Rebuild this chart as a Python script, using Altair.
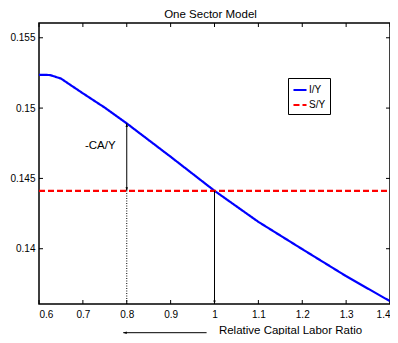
import altair as alt
import pandas as pd

# --- data ---
iy_x = [0.6, 0.625, 0.65, 0.7, 0.75, 0.8, 0.9, 1.0, 1.1, 1.2, 1.3, 1.4]
iy_y = [0.15237, 0.15235, 0.1521, 0.15105, 0.15003, 0.14891, 0.14654, 0.14412, 0.14191, 0.13997, 0.13805, 0.13627]
sy_x = [0.6, 1.4]
sy_level = 0.14412
ca_x = 0.8
ca_top = 0.14891
eq_x = 1.0
x_ticks = [0.6, 0.7, 0.8, 0.9, 1.0, 1.1, 1.2, 1.3, 1.4]
y_ticks = [0.14, 0.145, 0.15, 0.155]
x_dom = [0.6, 1.4]
y_dom = [0.13607, 0.15605]
below_arrow_x = [0.792, 0.982]
below_arrow_y = 0.13403
ca_label = "-CA/Y"
ca_label_pos = (0.7397, 0.1473)
title_text = "One Sector Model"

W, H = 351, 281

lines = pd.DataFrame(
    {"x": iy_x + sy_x,
     "y": iy_y + [sy_level] * len(sy_x),
     "s": ["I/Y"] * len(iy_x) + ["S/Y"] * len(sy_x)}
)

xs = alt.Scale(domain=x_dom, nice=False, zero=False)
ys = alt.Scale(domain=y_dom, nice=False, zero=False)

xax = alt.Axis(values=x_ticks, format="~g", ticks=False, domain=False, grid=False,
               labelPadding=5, labelFontSize=10, labelColor="black",
               title="Relative Capital Labor Ratio", titleFontSize=11.5, titleFontWeight="normal",
               titleColor="black", titleX=251, titleY=29, titleAlign="center",
               titleBaseline="alphabetic")
yax = alt.Axis(values=y_ticks, format="~g", ticks=False, domain=False, grid=False,
               labelPadding=4, labelFontSize=10, labelColor="black", title=None)

line_layer = alt.Chart(lines).mark_line(strokeWidth=2.2).encode(
    x=alt.X("x:Q", scale=xs, axis=xax),
    y=alt.Y("y:Q", scale=ys, axis=yax),
    color=alt.Color("s:N", scale=alt.Scale(domain=["I/Y", "S/Y"], range=["#0000ff", "#ff0000"]),
                    legend=alt.Legend(title=None, orient="none", legendX=249, legendY=55,
                                      fillColor="white", strokeColor="black", padding=4,
                                      symbolType="stroke", symbolSize=170, symbolStrokeWidth=2,
                                      labelFontSize=10, labelColor="black", rowPadding=2,
                                      labelOffset=1)),
    strokeDash=alt.StrokeDash("s:N", scale=alt.Scale(domain=["I/Y", "S/Y"], range=[[1, 0], [6, 3]]),
                              legend=None),
)

seg = pd.DataFrame({"x": [ca_x], "y": [sy_level], "y2": [ca_top]})
ca_rule = alt.Chart(seg).mark_rule(color="black", strokeWidth=1).encode(
    x=alt.X("x:Q", scale=xs), y=alt.Y("y:Q", scale=ys), y2="y2:Q")

dot = pd.DataFrame({"x": [ca_x], "y": [y_dom[0]], "y2": [sy_level]})
dot_rule = alt.Chart(dot).mark_rule(color="black", strokeWidth=1, strokeDash=[1, 1.5]).encode(
    x=alt.X("x:Q", scale=xs), y=alt.Y("y:Q", scale=ys), y2="y2:Q")

eq = pd.DataFrame({"x": [eq_x], "y": [y_dom[0]], "y2": [sy_level]})
eq_rule = alt.Chart(eq).mark_rule(color="black", strokeWidth=1).encode(
    x=alt.X("x:Q", scale=xs), y=alt.Y("y:Q", scale=ys), y2="y2:Q")

up_head = alt.Chart(pd.DataFrame({"x": [ca_x], "y": [ca_top]})).mark_point(
    shape="M0,0L-0.35,1L0.35,1Z", filled=True, color="black", size=49, opacity=1).encode(
    x=alt.X("x:Q", scale=xs), y=alt.Y("y:Q", scale=ys))
down_head = alt.Chart(pd.DataFrame({"x": [ca_x, eq_x], "y": [sy_level, y_dom[0]]})).mark_point(
    shape="M0,0L-0.35,-1L0.35,-1Z", filled=True, color="black", size=49, opacity=1).encode(
    x=alt.X("x:Q", scale=xs), y=alt.Y("y:Q", scale=ys))

below = pd.DataFrame({"x": [below_arrow_x[0]], "x2": [below_arrow_x[1]], "y": [below_arrow_y]})
below_rule = alt.Chart(below).mark_rule(color="black", strokeWidth=1).encode(
    x=alt.X("x:Q", scale=xs), x2="x2:Q", y=alt.Y("y:Q", scale=ys))
left_head = alt.Chart(pd.DataFrame({"x": [below_arrow_x[0]], "y": [below_arrow_y]})).mark_point(
    shape="M0,0L1,-0.35L1,0.35Z", filled=True, color="black", size=49, opacity=1).encode(
    x=alt.X("x:Q", scale=xs), y=alt.Y("y:Q", scale=ys))

label = alt.Chart(pd.DataFrame({"x": [ca_label_pos[0]], "y": [ca_label_pos[1]], "t": [ca_label]})).mark_text(
    fontSize=11.5, color="black", align="center", baseline="middle").encode(
    x=alt.X("x:Q", scale=xs), y=alt.Y("y:Q", scale=ys), text="t:N")

title = alt.Chart(pd.DataFrame({"t": [title_text]})).mark_text(
    fontSize=11.5, color="black", align="center", baseline="alphabetic").encode(
    x=alt.value(171.5), y=alt.value(-5), text="t:N")

# inward ticks (MATLAB style)
xt = pd.DataFrame({"x": x_ticks})
yt = pd.DataFrame({"y": y_ticks})
tb = alt.Chart(xt).mark_rule(color="black", strokeWidth=1).encode(
    x=alt.X("x:Q", scale=xs), y=alt.value(H), y2=alt.value(H - 4))
tt = alt.Chart(xt).mark_rule(color="black", strokeWidth=1).encode(
    x=alt.X("x:Q", scale=xs), y=alt.value(0), y2=alt.value(4))
tl = alt.Chart(yt).mark_rule(color="black", strokeWidth=1).encode(
    y=alt.Y("y:Q", scale=ys), x=alt.value(0), x2=alt.value(4))
tr = alt.Chart(yt).mark_rule(color="black", strokeWidth=1).encode(
    y=alt.Y("y:Q", scale=ys), x=alt.value(W), x2=alt.value(W - 4))

chart = alt.layer(
    line_layer, ca_rule, dot_rule, eq_rule, up_head, down_head, below_rule, left_head, label,
    title, tb, tt, tl, tr
).properties(
    width=W, height=H,
    autosize=alt.AutoSizeParams(type="none"),
    padding={"left": 31, "top": 15, "right": 0, "bottom": 31},
).configure(font="Liberation Sans").configure_view(stroke="black", strokeWidth=1.5)

chart.save("out.html", embed_options={"renderer": "svg", "actions": False})
